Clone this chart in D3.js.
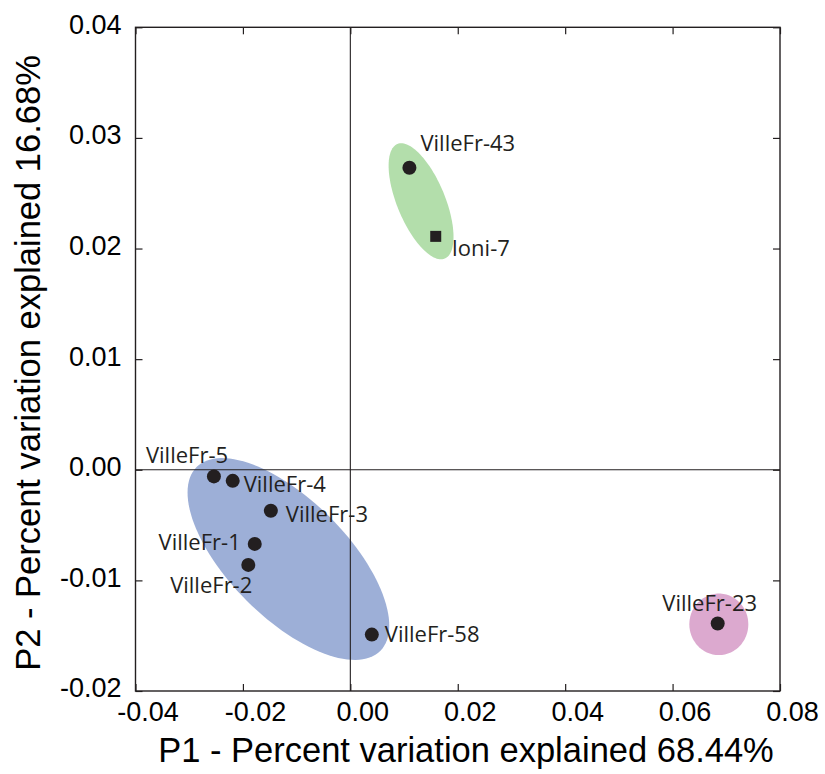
<!DOCTYPE html>
<html>
<head>
<meta charset="utf-8">
<script src="https://cdn.jsdelivr.net/npm/d3@7"></script>
<style>
  html, body { margin: 0; padding: 0; background: #fff; }
  svg { display: block; }
</style>
</head>
<body>
<svg id="chart" width="825" height="774"></svg>
<script>
// PCoA sample scores (P1, P2)
const sampleNames = ["VilleFr-5", "VilleFr-4", "VilleFr-3", "VilleFr-1", "VilleFr-2", "VilleFr-58", "VilleFr-23", "VilleFr-43", "Ioni-7"];
const p1Scores = [-0.0254, -0.0219, -0.0148, -0.0178, -0.0190, 0.0040, 0.0684, 0.0110, 0.0159];
const p2Scores = [-0.0006, -0.0010, -0.0037, -0.0067, -0.0086, -0.0149, -0.0139, 0.0273, 0.0211];
const markerShapes = ["circle", "circle", "circle", "circle", "circle", "circle", "circle", "circle", "square"];

// Group ellipses: centre and the two semi-axis vectors, all in score units
const groupNames = ["Villefranche", "Villefranche-23", "Ionian"];
const groupCenterP1 = [-0.01153, 0.06861, 0.01317];
const groupCenterP2 = [-0.00807, -0.01397, 0.02427];
const groupMajorP1 = [0.01710, 0.00549, 0.00441];
const groupMajorP2 = [-0.00831, 0.0, -0.00518];
const groupMinorP1 = [-0.00776, 0.0, -0.00413];
const groupMinorP2 = [-0.00377, 0.00278, -0.00083];

// Axis ticks
const xTicks = [-0.04, -0.02, 0.00, 0.02, 0.04, 0.06, 0.08];
const yTicks = [-0.02, -0.01, 0.00, 0.01, 0.02, 0.03, 0.04];
const xTitle = "P1 - Percent variation explained 68.44%";
const yTitle = "P2 - Percent variation explained 16.68%";

// ---- layout / style ----
const plot = { left: 135.5, right: 780, top: 27.3, bottom: 691 };
const groupFill = ["#9dafd7", "#dca9cf", "#b3deab"];
const ink = "#231f20";
const labelLayout = {
  "VilleFr-5":  { anchor: "start", dx: -68, dy: -13 },
  "VilleFr-4":  { anchor: "start", dx: 11, dy: 11 },
  "VilleFr-3":  { anchor: "start", dx: 15, dy: 11 },
  "VilleFr-1":  { anchor: "end", dx: -14, dy: 6 },
  "VilleFr-2":  { anchor: "end", dx: 4, dy: 28 },
  "VilleFr-58": { anchor: "start", dx: 13, dy: 7 },
  "VilleFr-23": { anchor: "middle", dx: -8, dy: -13 },
  "VilleFr-43": { anchor: "start", dx: 11, dy: -17 },
  "Ioni-7":     { anchor: "start", dx: 16, dy: 20 }
};

const svg = d3.select("#chart");

const x = d3.scaleLinear().domain([-0.04, 0.08]).range([plot.left, plot.right]);
const y = d3.scaleLinear().domain([-0.02, 0.04]).range([plot.bottom, plot.top]);

// Ellipses
const tSteps = d3.range(0, 361, 3).map(d => d * Math.PI / 180);
const ellipseLine = d3.line().curve(d3.curveLinearClosed);
groupNames.forEach((g, i) => {
  const pts = tSteps.map(t => [
    x(groupCenterP1[i] + groupMajorP1[i] * Math.cos(t) + groupMinorP1[i] * Math.sin(t)),
    y(groupCenterP2[i] + groupMajorP2[i] * Math.cos(t) + groupMinorP2[i] * Math.sin(t))
  ]);
  svg.append("path")
    .attr("class", "group-ellipse")
    .attr("d", ellipseLine(pts))
    .attr("fill", groupFill[i])
    .attr("stroke", "none");
});

// Zero reference lines
svg.append("line")
  .attr("x1", x(0)).attr("x2", x(0))
  .attr("y1", plot.top).attr("y2", plot.bottom)
  .attr("stroke", ink).attr("stroke-width", 1.1);
svg.append("line")
  .attr("x1", plot.left).attr("x2", plot.right)
  .attr("y1", y(0)).attr("y2", y(0))
  .attr("stroke", ink).attr("stroke-width", 1.1);

// Axes with inward ticks on all four sides
const tickLen = 7;
const fmt2 = d3.format(".2f");
const fmt = d => fmt2(d).replace("\u2212", "-");
const axisFont = "'Liberation Sans', Arial, sans-serif";

const bottomAxis = svg.append("g")
  .attr("transform", `translate(0,${plot.bottom})`)
  .call(d3.axisBottom(x).tickValues(xTicks).tickFormat(fmt).tickSize(-tickLen).tickPadding(0));
const leftAxis = svg.append("g")
  .attr("transform", `translate(${plot.left},0)`)
  .call(d3.axisLeft(y).tickValues(yTicks).tickFormat(fmt).tickSize(-tickLen).tickPadding(0));
const topAxis = svg.append("g")
  .attr("transform", `translate(0,${plot.top})`)
  .call(d3.axisTop(x).tickValues(xTicks).tickFormat("").tickSize(-tickLen));
const rightAxis = svg.append("g")
  .attr("transform", `translate(${plot.right},0)`)
  .call(d3.axisRight(y).tickValues(yTicks).tickFormat("").tickSize(-tickLen));

[bottomAxis, leftAxis, topAxis, rightAxis].forEach(a => {
  a.select(".domain").remove();
  a.selectAll(".tick line").attr("stroke", ink).attr("stroke-width", 1.2);
});

bottomAxis.selectAll(".tick text")
  .attr("y", 30).attr("dy", 0).attr("dx", 12)
  .attr("font-family", axisFont).attr("font-size", 27).attr("fill", "#000");
leftAxis.selectAll(".tick text")
  .attr("x", -14).attr("dy", "0.22em")
  .attr("font-family", axisFont).attr("font-size", 27).attr("fill", "#000");

// Frame
svg.append("rect")
  .attr("x", plot.left).attr("y", plot.top)
  .attr("width", plot.right - plot.left).attr("height", plot.bottom - plot.top)
  .attr("fill", "none").attr("stroke", ink).attr("stroke-width", 1.4);

// Sample markers
const samples = sampleNames.map((n, i) => ({ name: n, p1: p1Scores[i], p2: p2Scores[i], shape: markerShapes[i] }));

svg.selectAll("circle.sample")
  .data(samples.filter(d => d.shape === "circle"))
  .join("circle")
  .attr("class", "sample")
  .attr("cx", d => x(d.p1)).attr("cy", d => y(d.p2))
  .attr("r", 7)
  .attr("fill", ink);

const sq = 11;
svg.selectAll("rect.sample")
  .data(samples.filter(d => d.shape === "square"))
  .join("rect")
  .attr("class", "sample")
  .attr("x", d => x(d.p1) - sq / 2).attr("y", d => y(d.p2) - sq / 2)
  .attr("width", sq).attr("height", sq)
  .attr("fill", ink);

// Sample labels
svg.selectAll("text.sample-label")
  .data(samples)
  .join("text")
  .attr("class", "sample-label")
  .attr("x", d => x(d.p1) + labelLayout[d.name].dx)
  .attr("y", d => y(d.p2) + labelLayout[d.name].dy)
  .attr("text-anchor", d => labelLayout[d.name].anchor)
  .attr("font-family", "'Open Sans', sans-serif")
  .attr("font-size", 22)
  .attr("fill", ink)
  .text(d => d.name);

// Axis titles
svg.append("text")
  .attr("x", 466).attr("y", 761.5)
  .attr("text-anchor", "middle")
  .attr("font-family", axisFont).attr("font-size", 34.5)
  .attr("fill", "#000")
  .text(xTitle);

svg.append("text")
  .attr("transform", "translate(40,363) rotate(-90)")
  .attr("text-anchor", "middle")
  .attr("font-family", axisFont).attr("font-size", 34.5)
  .attr("fill", "#000")
  .text(yTitle);
</script>
</body>
</html>
